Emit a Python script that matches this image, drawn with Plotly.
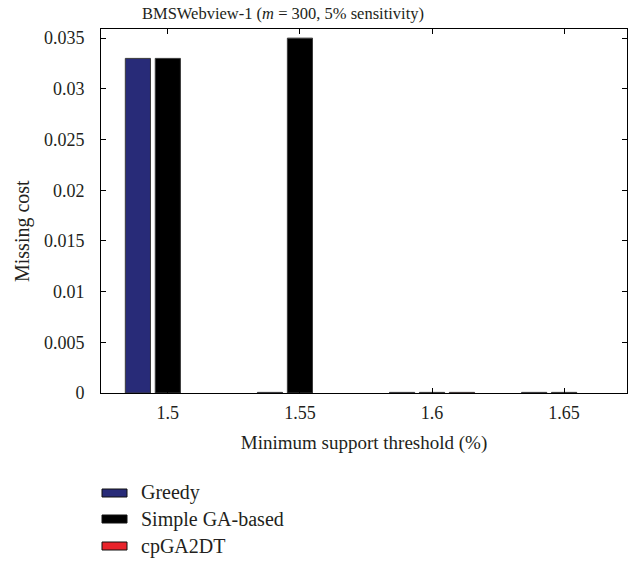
import plotly.graph_objects as go

# Minimum support thresholds (%) and missing cost per algorithm
thresholds = [1.5, 1.55, 1.6, 1.65]
greedy = [0.033, 0.00006, 0.00006, 0.00006]
simple_ga = [0.033, 0.035, 0.00006, 0.00006]
cpga2dt = [None, None, 0.00006, None]

series_names = ["Greedy", "Simple GA-based", "cpGA2DT"]
series_colors = ["#282b78", "#000000", "#e8232b"]

x_tick_labels = ["1.5", "1.55", "1.6", "1.65"]
y_tick_vals = [0, 0.005, 0.01, 0.015, 0.02, 0.025, 0.03, 0.035]
y_tick_labels = ["0", "0.005", "0.01", "0.015", "0.02", "0.025", "0.03", "0.035"]

FONT = "Liberation Serif"
TXT = "#231f20"
W, H = 628, 561
L, R, T, B = 101, 1, 29, 168
PW, PH = W - L - R, H - T - B


def px_x(x):
    return (x - L) / PW


def px_y(y):
    return (H - B - y) / PH


fig = go.Figure()
for name, vals, col in zip(series_names, [greedy, simple_ga, cpga2dt], series_colors):
    fig.add_trace(go.Bar(
        x=thresholds, y=vals, name=name,
        marker=dict(color=col, line=dict(color="#3a3a3a", width=1)),
        showlegend=False,
    ))

# Legend drawn as swatches + labels below the axes
legend_rows = [493, 519, 546]
for name, col, yc in zip(series_names, series_colors, legend_rows):
    fig.add_shape(
        type="rect", xref="paper", yref="paper",
        x0=px_x(102), x1=px_x(127), y0=px_y(yc + 4), y1=px_y(yc - 4),
        fillcolor=col, line=dict(color="#111111", width=1),
    )
    fig.add_annotation(
        text=name, xref="paper", yref="paper",
        x=px_x(139), y=px_y(yc),
        xanchor="left", yanchor="middle", showarrow=False,
        font=dict(family=FONT, size=20, color=TXT),
    )

# Y-axis title
fig.add_annotation(
    text="Missing cost", xref="paper", yref="paper",
    x=px_x(22), y=px_y(231), xanchor="center", yanchor="middle",
    textangle=-90, showarrow=False,
    font=dict(family=FONT, size=20, color=TXT),
)

fig.update_layout(
    width=W, height=H,
    margin=dict(l=L, r=R, t=T, b=B),
    paper_bgcolor="white", plot_bgcolor="white",
    barmode="group", bargap=0.32, bargroupgap=0.16,
    font=dict(family=FONT, size=18, color=TXT),
    title=dict(
        text="BMSWebview-1 (<i>m</i> = 300, 5% sensitivity)",
        x=px_x(283), xref="paper", xanchor="center",
        y=1 - 13 / H, yref="container", yanchor="middle",
        font=dict(family=FONT, size=16.5, color=TXT),
    ),
    xaxis=dict(
        range=[1.4747, 1.6738],
        tickvals=thresholds, ticktext=x_tick_labels,
        ticks="inside", ticklen=5, tickcolor="black",
        tickfont=dict(family=FONT, size=18, color=TXT),
        ticklabelstandoff=3,
        showline=True, linecolor="black", linewidth=1, mirror="ticks",
        showgrid=False, zeroline=False,
        title=dict(text="Minimum support threshold (%)", standoff=14,
                   font=dict(family=FONT, size=19, color=TXT)),
    ),
    yaxis=dict(
        range=[0, 0.0359],
        tickvals=y_tick_vals, ticktext=y_tick_labels,
        ticks="inside", ticklen=5, tickcolor="black",
        tickfont=dict(family=FONT, size=18, color=TXT),
        ticklabelstandoff=12,
        showline=True, linecolor="black", linewidth=1, mirror="ticks",
        showgrid=False, zeroline=False,
    ),
)

fig.write_html("out.html")
